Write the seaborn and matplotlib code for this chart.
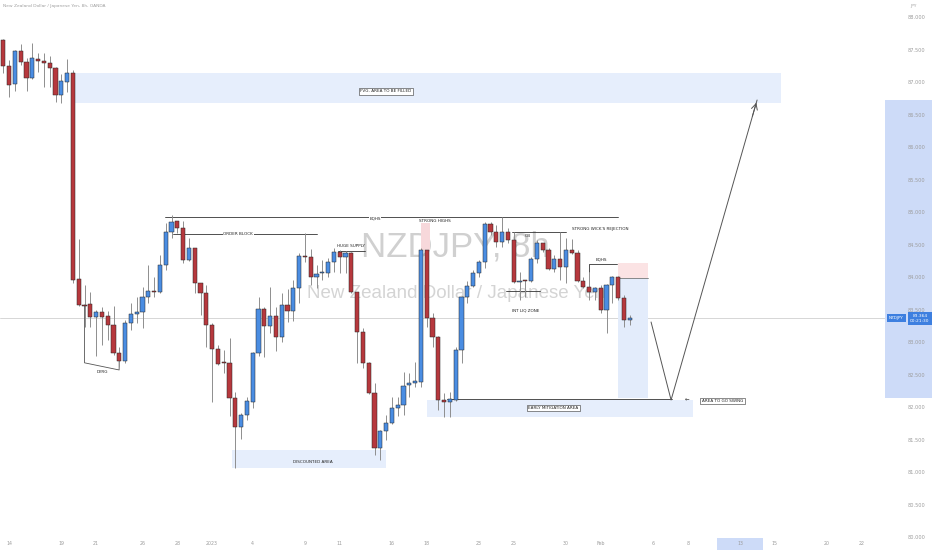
import numpy as np
import pandas as pd
import seaborn as sns
import matplotlib.pyplot as plt
import matplotlib.transforms as mtransforms
from matplotlib.patches import Rectangle

# NZDJPY 8h candles
opens = [87.65, 87.25, 86.97, 87.48, 87.31, 87.06, 87.35, 87.32, 87.29, 87.21,
         86.80, 87.00, 87.14, 83.97, 83.57, 83.58, 83.38, 83.46, 83.40, 83.26,
         82.83, 82.71, 83.29, 83.43, 83.46, 83.69, 83.78, 83.77, 84.18, 84.69,
         84.86, 84.75, 84.26, 84.45, 83.91, 83.75, 83.26, 82.89, 82.68, 82.68,
         82.14, 81.69, 81.88, 82.08, 82.83, 83.51, 83.25, 83.40, 83.08, 83.57,
         83.48, 83.83, 84.32, 84.31, 84.00, 84.06, 84.06, 84.23, 84.38, 84.31,
         84.37, 83.77, 83.15, 82.68, 82.21, 81.37, 81.63, 81.75, 81.98, 82.03,
         82.34, 82.37, 82.38, 84.41, 83.37, 83.08, 82.11, 82.08, 82.11, 82.88,
         83.69, 83.86, 84.06, 84.23, 84.81, 84.69, 84.54, 84.69, 84.57, 83.92,
         83.95, 83.94, 84.28, 84.52, 84.41, 84.12, 84.28, 84.15, 84.41, 84.37,
         83.94, 83.85, 83.77, 83.83, 83.49, 83.88, 84.00, 83.68, 83.34]
highs = [87.66, 87.34, 87.49, 87.58, 87.37, 87.60, 87.45, 87.45, 87.40, 87.23,
         87.12, 87.35, 87.18, 84.58, 83.88, 83.77, 83.49, 83.54, 83.48, 83.55,
         82.92, 83.34, 83.60, 83.69, 83.84, 84.18, 84.00, 84.34, 84.83, 84.95,
         84.86, 84.86, 84.60, 84.45, 83.91, 83.88, 83.29, 82.95, 82.87, 83.06,
         82.23, 81.91, 82.15, 82.85, 83.69, 83.54, 83.85, 83.54, 83.75, 83.81,
         83.95, 84.37, 84.68, 84.43, 84.18, 84.26, 84.29, 84.45, 84.41, 84.40,
         84.38, 83.77, 83.21, 82.69, 82.37, 81.64, 81.88, 82.15, 82.15, 82.54,
         82.52, 82.69, 84.45, 84.42, 83.45, 83.09, 82.21, 82.23, 82.92, 83.71,
         83.94, 84.11, 84.26, 84.84, 84.84, 84.80, 84.92, 84.75, 84.69, 84.08,
         83.96, 84.31, 84.57, 84.53, 84.45, 84.34, 84.69, 84.60, 84.58, 84.41,
         84.00, 84.08, 83.84, 83.88, 83.89, 84.02, 84.01, 83.72, 83.42]
lows = [87.14, 86.77, 86.86, 87.26, 86.86, 87.05, 87.15, 86.92, 86.92, 86.69,
        86.68, 86.84, 83.91, 83.56, 83.23, 83.23, 82.78, 82.95, 83.03, 82.80,
        82.61, 82.68, 83.18, 83.29, 83.21, 83.60, 83.69, 83.75, 84.11, 84.60,
        84.68, 84.21, 84.25, 83.75, 83.41, 82.92, 82.08, 82.65, 82.52, 81.86,
        81.06, 81.51, 81.80, 81.98, 82.78, 82.77, 83.14, 82.86, 83.00, 83.31,
        83.32, 83.60, 84.23, 83.88, 83.83, 83.95, 84.00, 84.08, 84.06, 84.06,
        83.76, 82.68, 82.60, 82.20, 81.26, 81.18, 81.49, 81.74, 81.86, 81.88,
        82.15, 82.31, 82.31, 83.23, 82.92, 81.95, 81.85, 81.85, 82.10, 82.68,
        83.60, 83.85, 84.00, 84.14, 84.64, 84.46, 84.46, 84.52, 83.91, 83.65,
        83.69, 83.92, 84.21, 84.38, 84.11, 84.08, 83.95, 83.91, 84.36, 83.92,
        83.83, 83.65, 83.65, 83.44, 83.14, 83.60, 83.65, 83.23, 83.26]
closes = [87.25, 86.95, 87.48, 87.31, 87.06, 87.37, 87.32, 87.29, 87.21, 86.80,
          87.01, 87.14, 83.95, 83.57, 83.55, 83.38, 83.46, 83.38, 83.26, 82.83,
          82.71, 83.29, 83.43, 83.46, 83.69, 83.78, 83.77, 84.18, 84.69, 84.85,
          84.75, 84.26, 84.45, 83.91, 83.75, 83.26, 82.89, 82.66, 82.67, 82.14,
          81.69, 81.88, 82.09, 82.83, 83.51, 83.25, 83.40, 83.08, 83.57, 83.48,
          83.83, 84.32, 84.31, 84.00, 84.05, 84.07, 84.23, 84.38, 84.31, 84.37,
          83.77, 83.15, 82.68, 82.21, 81.37, 81.63, 81.75, 81.98, 82.03, 82.32,
          82.37, 82.40, 84.41, 83.37, 83.08, 82.11, 82.08, 82.12, 82.88, 83.69,
          83.86, 84.06, 84.23, 84.81, 84.69, 84.54, 84.69, 84.57, 83.92, 83.94,
          83.94, 84.28, 84.52, 84.41, 84.12, 84.28, 84.15, 84.41, 84.37, 83.94,
          83.85, 83.77, 83.83, 83.49, 83.88, 84.00, 83.68, 83.34, 83.364]

last_price = 83.364
price_ticks = np.arange(80.0, 88.01, 0.5)
tick_pos = [1, 10, 16, 24, 30, 36, 43, 52, 58, 67, 73, 82, 88, 97, 103,
            112, 118, 127, 133, 142, 148]
tick_lab = ['14', '19', '21', '26', '28', '2023', '4', '9', '11', '16', '18',
            '23', '25', '30', 'Feb', '6', '8', '13', '15', '20', '22']

RED = '#b6383d'
BLUE = '#4a8de2'
BOXBLUE = '#e6eefc'
INK = '#333333'

sns.set_theme(style="white")
plt.rcParams['font.family'] = ['DejaVu Sans']

df = pd.DataFrame({'o': opens, 'h': highs, 'l': lows, 'c': closes})
df['i'] = np.arange(len(df))
df['up'] = df.c >= df.o

fig = plt.figure(figsize=(9.32, 5.5), dpi=100)
ax = fig.add_axes([0, 12 / 550, 885 / 932, 538 / 550])
ax.set_xlim(-0.57, 152.0)
ax.set_ylim(79.985, 88.2615)
for s in ax.spines.values():
    s.set_visible(False)

# watermark
ax.text(78, 84.46, 'NZDJPY, 8h', fontsize=25, color='#d0d0d0', ha='center', va='center',
        family=['Liberation Sans Narrow', 'Liberation Sans'], zorder=0.6)
ax.text(78, 83.75, 'New Zealand Dollar / Japanese Yen', fontsize=13.5, color='#d4d4d4',
        ha='center', va='center', family=['Liberation Sans Narrow', 'Liberation Sans'], zorder=0.6)

# current price line
ax.axhline(last_price, color='#d0d0d0', lw=0.6, zorder=0.7)

# zones
zones = [
    (11.84, 86.677, 134.08 - 11.84, 87.138 - 86.677, BOXBLUE),   # FVG
    (39.43, 81.061, 65.98 - 39.43, 81.338 - 81.061, BOXBLUE),    # discounted
    (73.05, 81.846, 118.91 - 73.05, 82.108 - 81.846, BOXBLUE),   # early mitigation
    (105.98, 82.138, 111.16 - 105.98, 83.985 - 82.138, '#e3ecfb'),  # target zone
    (105.98, 83.985, 111.16 - 105.98, 84.215 - 83.985, '#fbe3e4'),  # stop zone
    (72.02, 84.415, 73.57 - 72.02, 84.83 - 84.415, '#f7d8db'),    # strong highs
]
for x0, y0, w, h, col in zones:
    ax.add_patch(Rectangle((x0, y0), w, h, fc=col, ec='none', zorder=1))

# candles
ax.vlines(df.i, df.l, df.h, color='#8e8e8e', lw=0.7, zorder=3)
ax.bar(df.i, np.maximum((df.c - df.o).abs(), 0.018), bottom=np.minimum(df.o, df.c),
       width=0.72, color=np.where(df.up, BLUE, RED), edgecolor='#262626',
       linewidth=0.35, zorder=4)

# drawn lines
lw = 0.6
ax.plot([27.88, 105.98], [84.923, 84.923], color=INK, lw=lw, zorder=2)
ax.plot([29.26, 54.09], [84.662, 84.662], color=INK, lw=lw, zorder=2)
ax.plot([57.71, 62.36], [84.40, 84.40], color=INK, lw=lw, zorder=2)
ax.plot([87.71, 97.02], [84.692, 84.692], color=INK, lw=lw, zorder=2)
ax.plot([86.67, 92.53], [83.785, 83.785], color=INK, lw=lw, zorder=2)
ax.plot([100.98, 100.98, 105.81], [84.077, 84.20, 84.20], color=INK, lw=lw, zorder=2)
ax.plot([105.98, 111.16], [83.985, 83.985], color='#777777', lw=lw, zorder=2)
ax.plot([76.5, 115.29], [82.123, 82.123], color=INK, lw=lw, zorder=2)
ax.plot([14.0, 14.0, 19.97, 19.97], [83.57, 82.68, 82.57, 82.72], color='#555555', lw=lw, zorder=2)

# projected move
path = pd.DataFrame({'x': [111.67, 115.12, 129.95], 'y': [83.308, 82.108, 86.723]})
sns.lineplot(data=path, x='x', y='y', sort=False, color='#555555', lw=0.7, ax=ax, zorder=5)
ax.annotate('', xy=(129.95, 86.723), xytext=(129.0, 86.43),
            arrowprops=dict(arrowstyle='->,head_length=0.35,head_width=0.18',
                            color='#555555', lw=0.7), zorder=5)
ax.set_xlabel('')
ax.set_ylabel('')

# labels
fs = 3.0
plain = dict(fontsize=fs, color='#222222', ha='center', va='center', zorder=6)
boxed = dict(boxstyle='square,pad=0.35', fc='white', ec='#333333', lw=0.4)
gap = dict(boxstyle='square,pad=0.15', fc='white', ec='none')
ax.text(65.98, 86.86, 'FVG- AREA TO BE FILLED', bbox=boxed, **plain)
ax.text(17.0, 82.546, 'DYRG', **plain)
ax.text(64.09, 84.905, 'EQHS', bbox=gap, **plain)
ax.text(40.47, 84.662, 'ORDER BLOCK', bbox=gap, **plain)
ax.text(60.0, 84.48, 'HUGE SUPPLY', **plain)
ax.text(74.43, 84.861, 'STRONG HIGHS', **plain)
ax.text(90.47, 84.625, 'OB', **plain)
ax.text(102.9, 84.738, "STRONG WICK'S REJECTION", **plain)
ax.text(90.12, 83.492, 'INT LIQ ZONE', **plain)
ax.text(103.05, 84.277, 'EQHS', **plain)
ax.text(94.78, 81.985, 'EARLY MITIGATION AREA', bbox=boxed, **plain)
ax.text(117.9, 82.13, '\u2190', fontsize=4, color='#333333', ha='center', va='center')
ax.text(124.0, 82.092, 'AREA TO GO SWING', bbox=boxed, **plain)
ax.text(53.4, 81.154, 'DISCOUNTED AREA', **plain)

# axes ticks
ax.yaxis.tick_right()
ax.set_yticks(price_ticks)
ax.set_yticklabels([f'{p:.3f}' for p in price_ticks])
ax.tick_params(axis='y', length=0, pad=16.5, labelsize=3.6, labelcolor='#9c9c9c')
ax.set_xticks(tick_pos)
ax.set_xticklabels(tick_lab)
ax.tick_params(axis='x', length=0, pad=2.5, labelsize=3.4, labelcolor='#9c9c9c')

# axis highlights for the selected drawing
ty = mtransforms.blended_transform_factory(ax.transAxes, ax.transData)
tx = mtransforms.blended_transform_factory(ax.transData, ax.transAxes)
ax.add_patch(Rectangle((1.0, 82.138), 47 / 885, 86.723 - 82.138, transform=ty,
                       clip_on=False, fc='#cddbf8', ec='none', zorder=0.5))
ax.add_patch(Rectangle((123.05, -12 / 538), 7.93, 12 / 538, transform=tx,
                       clip_on=False, fc='#cddbf8', ec='none', zorder=0.5))

# price labels on the right scale
ax.text(896.5 / 885, last_price, 'NZDJPY', transform=ty, fontsize=3, color='white',
        ha='center', va='center', clip_on=False, zorder=7,
        bbox=dict(boxstyle='square,pad=0.5', fc='#3d7fe0', ec='none'))
ax.text(920 / 885, last_price, '83.364\n00:21:30', transform=ty, fontsize=3.2,
        color='white', ha='center', va='center', clip_on=False, zorder=7, linespacing=1.1,
        bbox=dict(boxstyle='square,pad=0.45', fc='#3d7fe0', ec='none'))

fig.text(3 / 932, 1 - 6 / 550, 'New Zealand Dollar / Japanese Yen, 8h, OANDA',
         fontsize=3.2, color='#a0a0a0', ha='left', va='center')
fig.text(913 / 932, 1 - 6 / 550, 'JPY', fontsize=3.2, color='#a0a0a0', ha='center', va='center')

fig.savefig('out.png', dpi=100, facecolor='white')
